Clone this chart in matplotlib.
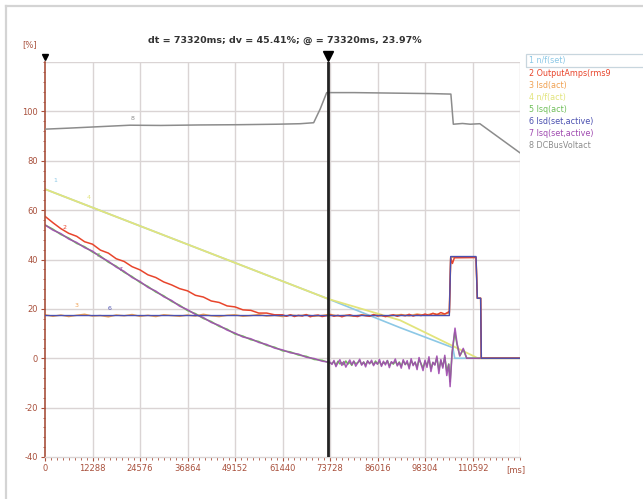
import numpy as np
import matplotlib
matplotlib.use("Agg")
import matplotlib.pyplot as plt
from matplotlib.patches import Rectangle
from matplotlib.lines import Line2D

# ---------------- data ----------------
x_ticks = [0, 12288, 24576, 36864, 49152, 61440, 73728, 86016, 98304, 110592]
x_tick_labels = ["0", "12288", "24576", "36864", "49152", "61440", "73728", "86016", "98304", "110592"]
y_ticks = [-40, -20, 0, 20, 40, 60, 80, 100]
x_max = 122880
cursor_t = 73320
title_text = "dt = 73320ms; dv = 45.41%; @ = 73320ms, 23.97%"

series_names = ["1 n/f(set)", "2 OutputAmps(rms9", "3 Isd(act)", "4 n/f(act)",
                "5 Isq(act)", "6 Isd(set,active)", "7 Isq(set,active)", "8 DCBusVoltact"]
series_colors = ["#8cc8e6", "#e8452c", "#f0a050", "#e2e47c",
                 "#6fbf5a", "#4b50b0", "#a04ab0", "#8c8c8c"]

# 1 n/f(set)
nset_t = [0, 73320, 91840, 105500, 106000, 122880]
nset_v = [68.5, 24.0, 12.4, 4.3, 0.0, 0.0]
# 4 n/f(act)
nact_t = [0, 73320, 91840, 112000, 122880]
nact_v = [68.5, 24.0, 15.4, 0.0, 0.0]
# 8 DCBusVoltact
dc_t = [0, 6000, 14000, 22000, 30000, 40000, 50000, 60000, 66000, 69500,
        71200, 72870, 80000, 90000, 100000, 105000, 105630, 108000, 110000, 112500, 122880]
dc_v = [92.8, 93.2, 93.8, 94.4, 94.3, 94.5, 94.6, 94.8, 95.0, 95.4,
        101.0, 107.6, 107.6, 107.4, 107.2, 107.0, 94.8, 95.1, 94.8, 95.0, 83.2]

# 2 OutputAmps(rms): decay sampled every 2048 ms from 0
amps_decay_v = [57.5, 54.9, 52.5, 50.6, 49.4, 47.2, 46.2, 43.8, 42.6, 40.3,
                39.2, 37.1, 35.8, 33.8, 32.7, 30.9, 29.7, 28.2, 27.3, 25.5,
                24.8, 23.2, 22.6, 21.2, 20.8, 19.6, 19.4, 18.3, 18.3, 17.6, 17.6]
# flat noisy part sampled every 1024 ms from 62464
amps_flat_v = [17.0, 17.6, 16.9, 17.4, 17.1, 17.7, 16.8, 17.3, 17.5, 16.9,
               17.2, 17.6, 17.0, 17.4, 16.8, 17.3, 17.6, 17.1, 16.9, 17.5,
               17.2, 17.0, 17.7, 17.1, 17.4, 16.9, 17.3, 17.6, 17.0, 17.5,
               17.2, 17.8, 17.1, 17.6, 17.3, 17.9, 17.4, 18.2, 17.6, 18.5,
               17.9, 18.8]
amps_step_t = [104600, 104950, 105400, 105900, 111500, 111840, 112700, 112870, 122880]
amps_step_v = [18.6, 40.6, 38.4, 40.7, 40.8, 24.3, 24.3, 0.0, 0.0]

# 3 Isd(act): sampled every 2048 ms from 0
isd_act_v = [17.6, 17.0, 17.5, 16.9, 17.4, 17.8, 17.1, 17.3, 16.8, 17.5,
             17.2, 17.7, 17.0, 17.4, 16.9, 17.6, 17.3, 17.0, 17.5, 17.1,
             17.8, 17.2, 16.9, 17.4, 17.6, 17.0, 17.3, 17.7, 17.1, 17.4,
             16.9, 17.5, 17.2, 17.6, 17.0, 17.3, 17.8, 17.1, 17.4, 17.0,
             17.6, 17.2, 17.5, 16.9, 17.4, 17.7, 17.2, 17.9, 17.4, 18.1,
             17.6, 18.3]
isd_act_step_t = [104600, 104950, 111500, 111840, 112700, 112870, 122880]
isd_act_step_v = [18.3, 40.9, 40.9, 24.3, 24.3, 0.0, 0.0]

# 6 Isd(set,active)
isd_set_t = [0, 104600, 104950, 111500, 111840, 112700, 112870, 122880]
isd_set_v = [17.3, 17.3, 41.2, 41.2, 24.3, 24.3, 0.0, 0.0]

# 5 Isq(act): decay every 2048 ms from 0, then noisy every 512 ms from 74240
isq_act_decay_v = [54.0, 52.3, 50.1, 48.7, 46.5, 45.2, 43.0, 41.4, 38.9, 37.3,
                   34.8, 33.1, 30.7, 29.1, 26.8, 25.3, 23.0, 21.5, 19.3, 18.1,
                   16.1, 14.9, 12.9, 11.8, 9.8, 9.0, 7.5, 6.8, 5.2, 4.5,
                   3.0, 2.6, 1.3, 0.8, -0.5, -0.8, -2.0]
isq_act_noise_v = [-2.1, -1.4, -2.8, -1.2, -2.3, -1.7, -2.6, -1.1, -2.4, -1.6,
                   -2.9, -1.3, -2.2, -1.8, -1.0, -2.5, -1.6, -2.7, -1.2, -2.0,
                   -1.5, -2.6, -1.1, -2.3, -1.4, -2.8, -1.7, -2.2, -1.0, -3.0,
                   -1.6, -2.4, -1.2, -2.7, -1.5, -3.2, -1.1, -2.5, -1.8, -3.4,
                   -0.9, -2.6, -1.7, -3.6, -0.6, -2.2, -3.9, -1.3, -2.9, -0.4,
                   -4.1, -1.8, -2.5, 0.1, -4.6, -1.0, -3.3, 0.4, -5.2, -2.3]
isq_act_osc_t = [104800, 105300, 106000, 106600, 107300, 108200, 109100, 122880]
isq_act_osc_v = [-9.5, 2.0, 10.5, 5.5, 1.0, 3.5, 0.0, 0.0]

# 7 Isq(set,active)
isq_set_decay_v = [54.0, 51.9, 50.5, 48.3, 46.9, 44.8, 43.4, 41.0, 39.3, 36.9,
                   35.2, 32.7, 31.1, 28.7, 27.2, 24.9, 23.4, 21.1, 19.7, 17.7,
                   16.5, 14.5, 13.3, 11.4, 10.2, 8.6, 7.9, 6.4, 5.6, 4.1,
                   3.4, 2.2, 1.7, 0.4, -0.1, -1.2, -1.6]
isq_set_noise_v = [-2.5, -0.9, -3.4, -1.8, -0.6, -2.9, -1.3, -3.6, -2.0, -0.7,
                   -2.6, -1.1, -3.2, -1.9, -0.4, -2.8, -1.5, -3.5, -1.0, -2.3,
                   -0.8, -3.0, -1.6, -2.4, -0.5, -3.3, -1.2, -2.7, -0.9, -3.8,
                   -1.4, -2.1, -0.3, -3.1, -1.7, -4.0, -0.6, -2.6, -1.0, -4.3,
                   -0.2, -3.0, -1.5, -4.6, 0.3, -2.4, -5.0, -0.8, -3.7, 0.6,
                   -5.4, -1.6, -2.8, 0.9, -6.2, -0.5, -4.0, 1.2, -7.0, -2.5]
isq_set_osc_t = [104800, 105300, 106070, 106600, 107300, 108200, 109100, 122880]
isq_set_osc_v = [-11.5, 2.0, 12.2, 6.0, 0.9, 4.0, 0.0, 0.0]

# inline series number labels (t, value)
label_pos_t = [2590, 5170, 8200, 11200, 13800, 16800, 19400, 22770]
label_pos_v = [70.8, 51.8, 20.3, 64.3, 40.8, 19.2, 35.0, 96.3]
label_series = [0, 1, 2, 3, 4, 5, 6, 7]

# ---------------- figure ----------------
W, H = 643, 499
fig = plt.figure(figsize=(W / 100, H / 100), dpi=100)
fig.patch.set_facecolor("white")
L, R, T, B = 45, 520, 62, 457
ax = fig.add_axes([L / W, 1 - B / H, (R - L) / W, (B - T) / H])
ax.set_xlim(0, x_max)
ax.set_ylim(-40, 120)

narrow = ["Liberation Sans Narrow", "DejaVu Sans"]
tick_col = "#a8503c"
grid_col = "#dad4d4"

# grid
for xv in x_ticks[1:] + [x_max]:
    ax.axvline(xv, color=grid_col, lw=1.0, zorder=1)
for yv in y_ticks[1:] + [120]:
    ax.axhline(yv, color=grid_col, lw=1.0, zorder=1)

def stitched(t0, step, vals, extra_t=None, extra_v=None):
    t = list(t0 + step * np.arange(len(vals)))
    v = list(vals)
    if extra_t is not None:
        t += list(extra_t)
        v += list(extra_v)
    return t, v

lw = 1.1
ax.plot(nset_t, nset_v, color=series_colors[0], lw=1.2, zorder=2.0)
ax.plot(nact_t, nact_v, color=series_colors[3], lw=1.3, zorder=2.1)

t5a, v5a = stitched(0, 2048, isq_act_decay_v)
t5b, v5b = stitched(74240, 512, isq_act_noise_v, isq_act_osc_t, isq_act_osc_v)
ax.plot(t5a + t5b, v5a + v5b, color=series_colors[4], lw=lw, zorder=2.2)

t7a, v7a = stitched(0, 2048, isq_set_decay_v)
t7b, v7b = stitched(74240, 512, isq_set_noise_v, isq_set_osc_t, isq_set_osc_v)
ax.plot(t7a + t7b, v7a + v7b, color=series_colors[6], lw=lw, zorder=2.3, alpha=0.9)

t3, v3 = stitched(0, 2048, isd_act_v, isd_act_step_t, isd_act_step_v)
ax.plot(t3, v3, color=series_colors[2], lw=lw, zorder=2.4)

t2a, v2a = stitched(0, 2048, amps_decay_v)
t2b, v2b = stitched(62464, 1024, amps_flat_v, amps_step_t, amps_step_v)
ax.plot(t2a + t2b, v2a + v2b, color=series_colors[1], lw=lw, zorder=2.5)

ax.plot(isd_set_t, isd_set_v, color=series_colors[5], lw=1.0, zorder=2.6)
ax.plot(dc_t, dc_v, color=series_colors[7], lw=1.1, zorder=2.7)

for t, v, s in zip(label_pos_t, label_pos_v, label_series):
    ax.text(t, v, str(s + 1), color=series_colors[s], fontsize=4.5,
            ha="center", va="bottom", family=narrow, zorder=3)

# cursor
ax.axvline(cursor_t, color="#222222", lw=2.0, zorder=4)
ax.plot([cursor_t], [122.5], marker="v", color="black", ms=7, clip_on=False, zorder=5)
ax.plot([0], [122.0], marker="v", color="black", ms=4.5, clip_on=False, zorder=5)

# spines
for s in ["top", "right"]:
    ax.spines[s].set_visible(False)
ax.spines["bottom"].set_color(grid_col)
ax.spines["bottom"].set_linewidth(1.0)
ax.spines["left"].set_color(tick_col)
ax.spines["left"].set_linestyle((0, (1, 1)))
ax.spines["left"].set_linewidth(1.2)

ax.set_xticks(x_ticks)
ax.set_xticklabels(x_tick_labels)
ax.set_xticks(np.arange(0, x_max + 1, 1536), minor=True)
ax.set_yticks(y_ticks)
ax.set_yticklabels([str(v) for v in y_ticks])
ax.set_yticks(np.arange(-40, 121, 4), minor=True)
ax.tick_params(axis="both", which="major", direction="out", length=3, width=0.8,
               color=tick_col, labelcolor=tick_col, labelsize=6, pad=2)
ax.tick_params(axis="both", which="minor", direction="out", length=1.8, width=0.6,
               color=tick_col)
for lab in ax.get_xticklabels() + ax.get_yticklabels():
    lab.set_family(narrow)
ax.text(x_max - 1200, -43.2, "[ms]", color=tick_col, fontsize=6,
        ha="center", va="top", family=narrow)

# title and unit
fig.text(285 / W, 1 - 40 / H, title_text, ha="center", va="center", fontsize=6.8,
         fontweight="bold", color="#333333", family=narrow)
fig.text(30 / W, 1 - 45 / H, "[%]", ha="center", va="center", fontsize=6,
         color=tick_col, family=narrow)

# legend
leg_y0, leg_dy = 61, 12.1
for i, (name, col) in enumerate(zip(series_names, series_colors)):
    fig.text(529 / W, 1 - (leg_y0 + i * leg_dy) / H, name, color=col, fontsize=5.8,
             ha="left", va="center", family=narrow)
fig.patches.append(Rectangle((526 / W, 1 - 67 / H), 130 / W, 13 / H,
                             transform=fig.transFigure, fill=False,
                             edgecolor="#c8d6de", lw=0.9))

# outer frame
fig.add_artist(Line2D([6 / W, 6 / W], [0, 1 - 6 / H], color="#d4d4d4", lw=1.6))
fig.add_artist(Line2D([6 / W, 1], [1 - 6 / H, 1 - 6 / H], color="#d4d4d4", lw=1.6))

fig.savefig("out.png", dpi=100)
